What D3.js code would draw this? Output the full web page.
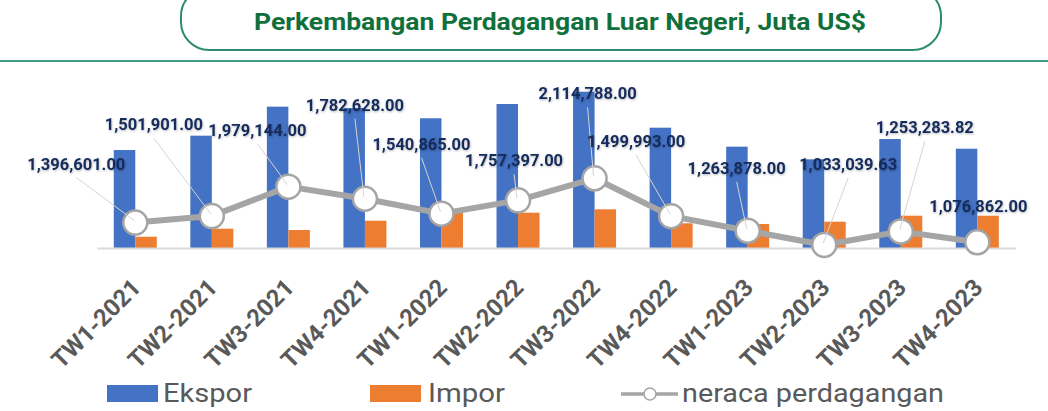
<!DOCTYPE html>
<html>
<head>
<meta charset="utf-8">
<script src="https://cdn.jsdelivr.net/npm/d3@7"></script>
<style>
  body { margin: 0; background: #fff; }
  svg { display: block; font-family: Roboto, "Liberation Sans", sans-serif; }
</style>
</head>
<body>
<div id="chart"></div>
<script>
var categories = ["TW1-2021", "TW2-2021", "TW3-2021", "TW4-2021", "TW1-2022", "TW2-2022",
    "TW3-2022", "TW4-2022", "TW1-2023", "TW2-2023", "TW3-2023", "TW4-2023"];
var ekspor = [1729000, 1982000, 2494000, 2471000, 2289000, 2541000,
    2758000, 2123000, 1788000, 1565000, 1923000, 1752000];
var impor = [199000, 341000, 318000, 482000, 635000, 623000,
    683000, 436000, 424000, 464000, 570000, 570000];
var neraca = [1396601, 1501901, 1979144, 1782628, 1540865, 1757397,
    2114788, 1499993, 1263878, 1033039.63, 1253283.82, 1076862];
var seriesNames = ["Ekspor", "Impor", "neraca perdagangan"];

// where excel dragged the data labels (offset from the point)
var labelOffsets = [[-59, -53], [-58, -86], [-31, -51], [-10, -88], [-20, -64], [-4, -34],
    [-7, -79], [-35, -69], [-11, -57], [24, -75], [24, -98], [1, -30]];

var W = 1048, H = 411;
var baseline = 248;

var svg = d3.select("#chart").append("svg")
    .attr("width", W)
    .attr("height", H);

var defs = svg.append("defs");
defs.append("filter").attr("id", "glow")
    .attr("x", "-10%").attr("y", "-30%").attr("width", "120%").attr("height", "160%")
    .append("feDropShadow")
    .attr("dx", 0.5).attr("dy", 1)
    .attr("stdDeviation", 1)
    .attr("flood-color", "#000")
    .attr("flood-opacity", 0.3);

// title box
svg.append("rect")
    .attr("x", 181).attr("y", -12)
    .attr("width", 760).attr("height", 62)
    .attr("rx", 28)
    .attr("fill", "#fff")
    .attr("stroke", "#2e8b73")
    .attr("stroke-width", 2);

svg.append("text")
    .attr("x", 560).attr("y", 30)
    .attr("text-anchor", "middle")
    .attr("textLength", 612)
    .attr("lengthAdjust", "spacingAndGlyphs")
    .style("font-size", "23px")
    .style("font-weight", "bold")
    .style("fill", "#10703c")
    .text("Perkembangan Perdagangan Luar Negeri, Juta US$");

svg.append("line")
    .attr("x1", 0).attr("x2", W)
    .attr("y1", 61).attr("y2", 61)
    .attr("stroke", "#3f9c85")
    .attr("stroke-width", 2);

// scales
var x = d3.scaleBand()
    .domain(categories)
    .range([97, 1015.6])
    .padding(0);

var xSub = d3.scaleBand()
    .domain(["ekspor", "impor"])
    .range([-21.5, 21.5])
    .padding(0);

var y = d3.scaleLinear()
    .domain([0, 3000000])
    .range([baseline, 78]);

var y2 = d3.scaleLinear()
    .domain([1000000, 3000000])
    .range([247, 123.7]);

function cx(d) { return x(d) + x.bandwidth() / 2; }

// bars
var groups = svg.append("g").selectAll("g")
    .data(categories)
    .enter().append("g")
    .attr("transform", function (d) { return "translate(" + cx(d) + ",0)"; });

groups.append("rect")
    .attr("x", xSub("ekspor"))
    .attr("width", xSub.bandwidth())
    .attr("y", function (d, i) { return y(ekspor[i]); })
    .attr("height", function (d, i) { return baseline - y(ekspor[i]); })
    .style("fill", "#4472c4");

groups.append("rect")
    .attr("x", xSub("impor"))
    .attr("width", xSub.bandwidth())
    .attr("y", function (d, i) { return y(impor[i]); })
    .attr("height", function (d, i) { return baseline - y(impor[i]); })
    .style("fill", "#ed7d31");

// x axis
var xAxis = svg.append("g")
    .attr("transform", "translate(0," + baseline + ")")
    .call(d3.axisBottom(x).tickSize(0).tickFormat(""));
xAxis.select(".domain").attr("stroke", "#d9d9d9").attr("stroke-width", 2);

svg.append("g").selectAll("text")
    .data(categories)
    .enter().append("text")
    .attr("text-anchor", "end")
    .attr("transform", function (d) { return "translate(" + (cx(d) + 7) + ",289) rotate(-45)"; })
    .style("font-size", "24px")
    .style("font-weight", "bold")
    .style("fill", "#595959")
    .text(function (d) { return d; });

// neraca line
var pts = categories.map(function (d, i) { return [cx(d), y2(neraca[i])]; });

svg.append("path")
    .datum(pts)
    .attr("d", d3.line())
    .attr("fill", "none")
    .attr("stroke", "#a5a5a5")
    .attr("stroke-width", 6)
    .attr("stroke-linejoin", "round");

svg.append("g").selectAll("circle")
    .data(pts)
    .enter().append("circle")
    .attr("cx", function (d) { return d[0]; })
    .attr("cy", function (d) { return d[1]; })
    .attr("r", 12)
    .attr("fill", "#fff")
    .attr("stroke", "#a5a5a5")
    .attr("stroke-width", 2.5);

// leader lines + labels
var fmt = d3.format(",.2f");

svg.append("g").selectAll("line")
    .data(pts.filter(function (d, i) { return labelOffsets[i][1] < -32; }))
    .enter().append("line")
    .attr("x1", function (d) { var i = pts.indexOf(d); return d[0] + labelOffsets[i][0]; })
    .attr("y1", function (d) { var i = pts.indexOf(d); return d[1] + labelOffsets[i][1] + 8; })
    .attr("x2", function (d) { return d[0] - 1; })
    .attr("y2", function (d) { return d[1] - 2; })
    .attr("stroke", "#d4d4d4")
    .attr("stroke-width", 1);

svg.append("g").selectAll("text")
    .data(pts)
    .enter().append("text")
    .attr("x", function (d, i) { return d[0] + labelOffsets[i][0]; })
    .attr("y", function (d, i) { return d[1] + labelOffsets[i][1]; })
    .attr("text-anchor", "middle")
    .attr("filter", "url(#glow)")
    .style("font-size", "16.5px")
    .style("font-weight", "bold")
    .style("fill", "#132b5b")
    .text(function (d, i) { return fmt(neraca[i]); });

// legend
var legend = svg.append("g");
legend.append("rect").attr("x", 107).attr("y", 385).attr("width", 51).attr("height", 17).style("fill", "#4472c4");
legend.append("text").attr("x", 163).attr("y", 402).attr("textLength", 89).attr("lengthAdjust", "spacingAndGlyphs")
    .style("font-size", "26px").style("fill", "#595959").text(seriesNames[0]);
legend.append("rect").attr("x", 370).attr("y", 385).attr("width", 51).attr("height", 17).style("fill", "#ed7d31");
legend.append("text").attr("x", 428).attr("y", 402).attr("textLength", 77).attr("lengthAdjust", "spacingAndGlyphs")
    .style("font-size", "26px").style("fill", "#595959").text(seriesNames[1]);
legend.append("line").attr("x1", 621).attr("x2", 678).attr("y1", 394).attr("y2", 394)
    .attr("stroke", "#a5a5a5").attr("stroke-width", 3.5);
legend.append("circle").attr("cx", 650).attr("cy", 394).attr("r", 6)
    .attr("fill", "#fff").attr("stroke", "#a5a5a5").attr("stroke-width", 1.5);
legend.append("text").attr("x", 682).attr("y", 402).attr("textLength", 262).attr("lengthAdjust", "spacingAndGlyphs")
    .style("font-size", "26px").style("fill", "#595959").text(seriesNames[2]);
</script>
</body>
</html>
